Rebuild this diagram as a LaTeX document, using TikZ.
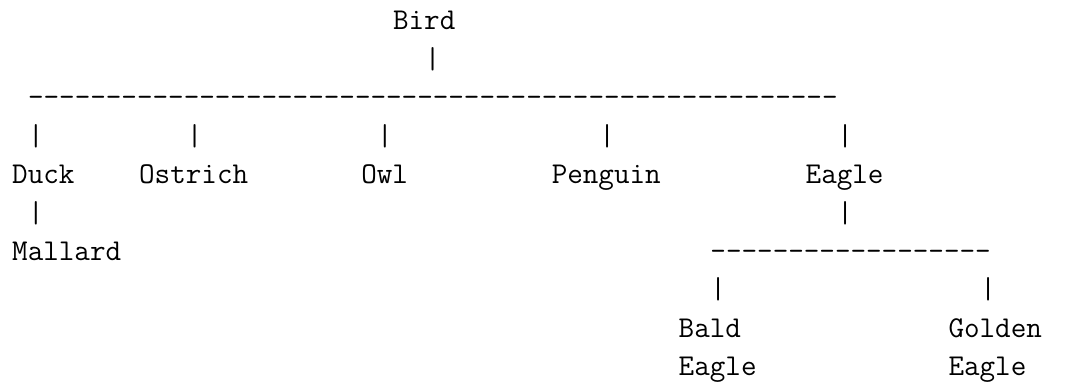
\documentclass[tikz,border=0pt]{standalone}
\begin{document}
\begin{tikzpicture}[x=1pt,y=1pt,
  tt/.style={anchor=base west,inner sep=0pt,outer sep=0pt,
    font=\ttfamily\fontsize{30.23pt}{38.4pt}\selectfont}]
\useasboundingbox (0,0) rectangle (1073,-385);
\def\cw{15.87}
\def\xo{12.2}
\newcommand\tok[4]{\node[tt] (#1) at ({\xo+#3*\cw},{-(30+#2*38.4)}) {#4};}
\tok{bird}{0}{24}{Bird}
\tok{v0}{1}{26}{|}
\tok{h1}{2}{1}{\foreach \i in {1,...,52}{-}}
\tok{v1}{3}{1}{|}
\tok{v2}{3}{11}{|}
\tok{v3}{3}{23}{|}
\tok{v4}{3}{37}{|}
\tok{v5}{3}{52}{|}
\tok{duck}{4}{0}{Duck}
\tok{ostrich}{4}{8}{Ostrich}
\tok{owl}{4}{22}{Owl}
\tok{penguin}{4}{34}{Penguin}
\tok{eagle}{4}{50}{Eagle}
\tok{v6}{5}{1}{|}
\tok{v7}{5}{52}{|}
\tok{mallard}{6}{0}{Mallard}
\tok{h2}{6}{44}{\foreach \i in {1,...,18}{-}}
\tok{v8}{7}{44}{|}
\tok{v9}{7}{61}{|}
\tok{bald}{8}{42}{Bald}
\tok{golden}{8}{59}{Golden}
\tok{balde}{9}{42}{Eagle}
\tok{goldene}{9}{59}{Eagle}
\end{tikzpicture}
\end{document}
